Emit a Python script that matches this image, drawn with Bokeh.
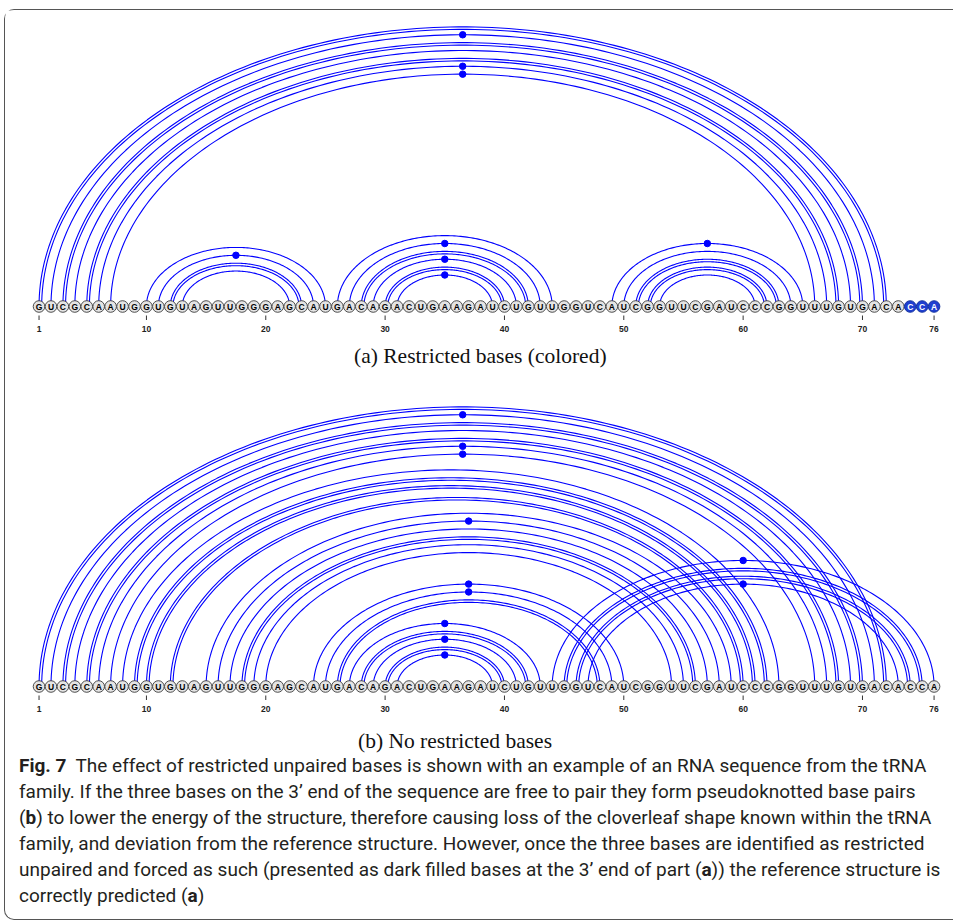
import numpy as np
from bokeh.plotting import figure
from bokeh.models import Range1d, Div
from bokeh.layouts import column
from bokeh.embed import file_html
from bokeh.resources import INLINE
from bokeh.core.properties import value

# ---------------- data ----------------
sequence = "GUCGCAAUGGUGUAGUUGGGAGCAUGACAGACUGAAGAUCUGUUGGUCAUCGGUUCGAUCCCGGUUUGUGACACCA"
tick_positions = [1, 10, 20, 30, 40, 50, 60, 70, 76]
tick_labels = ["1", "10", "20", "30", "40", "50", "60", "70", "76"]
restricted_bases = [74, 75, 76]

# (a) restricted bases: cloverleaf
pairs_a_left = [1, 2, 3, 4, 5, 6, 7, 10, 11, 12, 13, 26, 27, 28, 29, 30, 31, 49, 50, 51, 52, 53]
pairs_a_right = [72, 71, 70, 69, 68, 67, 66, 25, 24, 23, 22, 44, 43, 42, 41, 40, 39, 65, 64, 63, 62, 61]
style_a = ["double", "dot", "double", "single", "double", "dot", "dot",
           "single", "dot", "double", "single",
           "single", "dot", "double", "dot", "double", "dot",
           "dot", "single", "double", "double", "single"]

# (b) no restricted bases: pseudoknotted
pairs_b_left = [1, 2, 3, 4, 5, 6, 7, 8, 9, 10, 12, 15, 16, 17, 18, 19, 20,
                24, 25, 26, 27, 28, 29, 30, 31, 44, 45, 46, 47]
pairs_b_right = [72, 71, 70, 69, 68, 67, 66, 63, 62, 61, 60, 59, 58, 57, 56, 55, 54,
                 50, 49, 48, 43, 42, 41, 40, 39, 76, 75, 74, 73]
style_b = ["double", "dot", "double", "single", "double", "dot", "dot",
           "single", "double", "double", "double",
           "single", "dot", "single", "double", "single", "single",
           "dot", "dot", "double",
           "dot", "double", "dot", "double", "dot",
           "dot", "double", "double", "dot"]

caption_a = "(a) Restricted bases (colored)"
caption_b = "(b) No restricted bases"

# ---------------- layout constants ----------------
FIG_W, FIG_H = 938, 713
X0, X1 = -1.81, 76.79
PITCH = FIG_W / (X1 - X0)
ASPECT = 0.66
Y_TOP = 296
Y_BOT = Y_TOP - FIG_H
BASE_A = 0.0
BASE_B = -380.0
ARC_COLOR = "#0000ff"

p = figure(width=FIG_W, height=FIG_H, x_range=Range1d(X0, X1), y_range=Range1d(Y_BOT, Y_TOP),
           output_backend="svg", toolbar_location=None, min_border=0)
p.axis.visible = False
p.grid.visible = False
p.outline_line_color = None
p.background_fill_color = "white"
p.border_fill_color = "white"

t = np.linspace(0, np.pi, 160)


def draw_structure(lefts, rights, styles, y0, restricted):
    xs, ys, dx, dy = [], [], [], []
    for i, j, s in zip(lefts, rights, styles):
        c = (i + j) / 2.0
        a = (j - i) / 2.0
        b = ASPECT * a * PITCH
        xs.append(list(c + a * np.cos(t)))
        ys.append(list(y0 + b * np.sin(t)))
        if s == "double":
            a2 = a - 0.22
            b2 = b - 2.5
            xs.append(list(c + a2 * np.cos(t)))
            ys.append(list(y0 + b2 * np.sin(t)))
        if s == "dot":
            dx.append(c)
            dy.append(y0 + b)
    p.multi_line(xs, ys, line_color=ARC_COLOR, line_width=1.1)
    p.scatter(dx, dy, size=6.5, fill_color=ARC_COLOR, line_color=ARC_COLOR)

    idx = list(range(1, len(sequence) + 1))
    fills = ["#1f3fd0" if k in restricted else "#e4e4e4" for k in idx]
    lines = ["#0a2a9a" if k in restricted else "#3a3a3a" for k in idx]
    tcol = ["white" if k in restricted else "black" for k in idx]
    p.scatter(idx, [y0] * len(idx), size=11.6, fill_color=fills, line_color=lines, line_width=0.9)
    p.text(idx, [y0] * len(idx), text=list(sequence), text_color=tcol,
           text_font=value("Liberation Sans"), text_font_style="bold", text_font_size="8.5px",
           text_align="center", text_baseline="middle")
    # base number ticks
    p.segment(tick_positions, [y0 - 9] * len(tick_positions), tick_positions, [y0 - 13.5] * len(tick_positions),
              line_color="#333333", line_width=1)
    p.text(tick_positions, [y0 - 22.5] * len(tick_positions), text=tick_labels,
           text_font=value("Liberation Sans"), text_font_style="bold", text_font_size="8.5px",
           text_align="center", text_baseline="middle", text_color="#222222")


draw_structure(pairs_a_left, pairs_a_right, style_a, BASE_A, restricted_bases)
draw_structure(pairs_b_left, pairs_b_right, style_b, BASE_B, [])

cap_x = 1 + (355 - 40) / PITCH
p.text([cap_x], [BASE_A - 49], text=[caption_a], text_font=value("Liberation Serif"),
       text_font_size="21.5px", text_align="left", text_baseline="middle", text_color="#111111")

lines_txt = [
    "<b>Fig. 7</b>&nbsp; The effect of restricted unpaired bases is shown with an example of an RNA sequence from the tRNA",
    "family. If the three bases on the 3\u2019 end of the sequence are free to pair they form pseudoknotted base pairs",
    "(<b>b</b>) to lower the energy of the structure, therefore causing loss of the cloverleaf shape known within the tRNA",
    "family, and deviation from the reference structure. However, once the three bases are identified as restricted",
    "unpaired and forced as such (presented as dark filled bases at the 3\u2019 end of part (<b>a</b>)) the reference structure is",
    "correctly predicted (<b>a</b>)",
]
html = ('<div style="font-family: \'Liberation Serif\', serif; font-size: 21.5px; line-height: 25px; height: 25px; '
        'position: relative; top: 1px; white-space: nowrap; color: #111111; padding-left: 348px;">' + caption_b + '</div>'
        '<div style="font-family: Roboto, \'Open Sans\', sans-serif; font-size: 19px; line-height: 26px; '
        'white-space: nowrap; color: #231f20; padding-left: 9px;">'
        + "<br>".join(lines_txt) + "</div>")
div = Div(text=html, width=FIG_W, height=186)

layout = column(p, div, spacing=0,
                styles={"border-top": "1.5px solid #555", "border-left": "1.5px solid #555",
                        "border-bottom": "1.5px solid #555", "border-top-left-radius": "10px",
                        "border-bottom-left-radius": "10px", "background": "white",
                        "margin-top": "9px", "margin-left": "4px"})

open("out.html", "w").write(file_html(layout, INLINE))
